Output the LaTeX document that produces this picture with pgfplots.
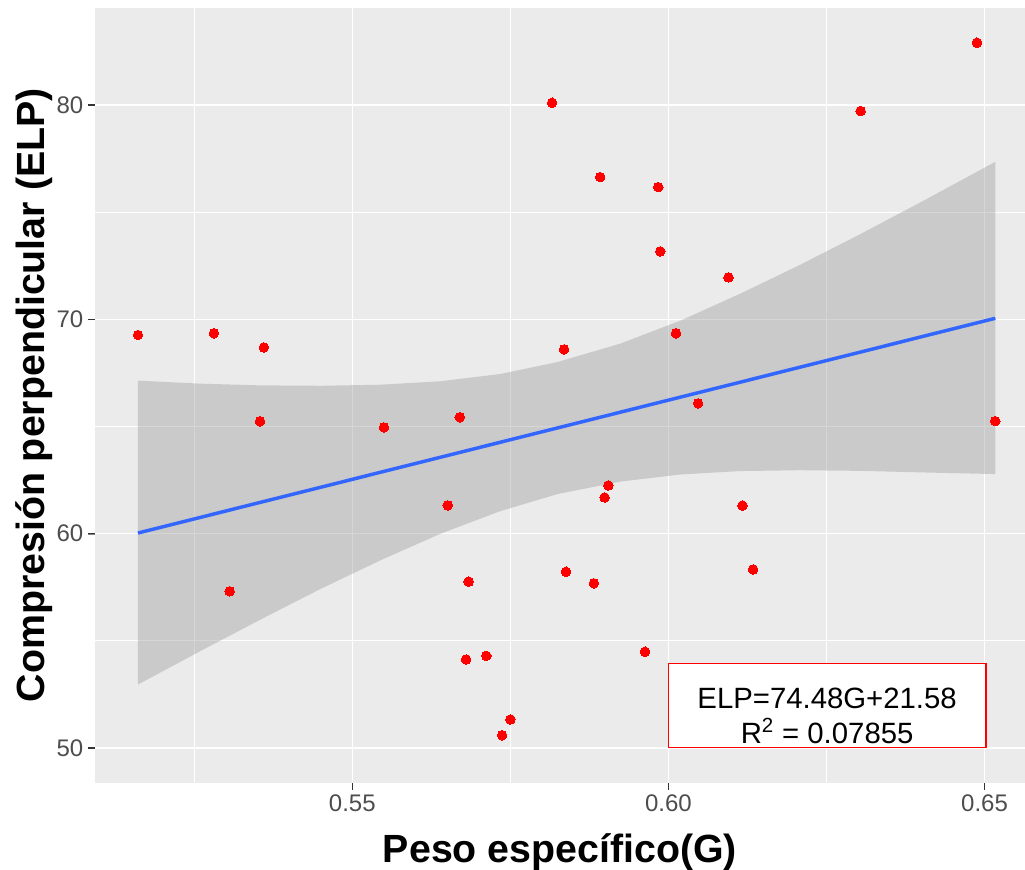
\documentclass[border=0pt]{standalone}
\usepackage{pgfplots}
\pgfplotsset{compat=1.18}
\usepackage{fontspec}
\setmainfont{Liberation Sans}
\definecolor{bg}{HTML}{EBEBEB}
\definecolor{tickc}{HTML}{333333}
\definecolor{labc}{HTML}{4D4D4D}
\definecolor{smoothc}{HTML}{3366FF}
\definecolor{bandc}{HTML}{999999}
\begin{document}
\begin{tikzpicture}[x=1pt,y=1pt]
\useasboundingbox (-71.25,-65.5) rectangle (697.5,587);
\begin{axis}[
  scale only axis, width=697.5pt, height=581pt,
  at={(0,0)}, anchor=south west,
  xmin=0.5093, xmax=0.6564, ymin=48.38, ymax=84.53,
  axis background/.style={fill=bg},
  axis lines*=left,
  axis line style={draw=none},
  xtick={0.55,0.60,0.65}, xticklabels={0.55,0.60,0.65},
  ytick={50,60,70,80}, yticklabels={50,60,70,80},
  minor xtick={0.525,0.575,0.625}, minor ytick={55,65,75},
  grid=both,
  major grid style={white, line width=1.1pt},
  minor grid style={white, line width=0.55pt},
  tick align=outside, major tick length=5.25pt, minor tick length=0pt,
  xticklabel style={font=\fontsize{18}{18}\selectfont, text=labc},
  yticklabel style={font=\fontsize{18}{18}\selectfont, text=labc},
  xlabel={Peso específico(G)},
  ylabel={Compresión perpendicular (ELP)},
  xlabel style={font=\bfseries\fontsize{29.5}{30}\selectfont, at={(axis description cs:0.5,-0.1036)}, anchor=base},
  ylabel style={font=\bfseries\fontsize{29.5}{30}\selectfont, at={(axis description cs:-0.0548,0.5)}, anchor=base},
]
% observed points
\addplot[only marks, mark=*, mark size=3.6pt, mark options={fill=red, draw=red, line width=0pt}] coordinates {
(0.5161,69.27) (0.5281,69.35) (0.5360,68.69) (0.5354,65.24) (0.5306,57.31)
(0.5550,64.96) (0.5670,65.43) (0.5651,61.32) (0.5684,57.76) (0.5680,54.13)
(0.5712,54.30) (0.5737,50.59) (0.5750,51.33) (0.5816,80.11) (0.5835,68.60)
(0.5838,58.22) (0.5882,57.68) (0.5892,76.64) (0.5899,61.69) (0.5905,62.25)
(0.5963,54.49) (0.5984,76.17) (0.5987,73.17) (0.6012,69.35) (0.6047,66.08)
(0.6095,71.96) (0.6117,61.31) (0.6134,58.33) (0.6304,79.72) (0.6488,82.91)
(0.6517,65.25)
};
% confidence band
\addplot[draw=none, fill=bandc, fill opacity=0.4] coordinates {
(0.5161,67.14) (0.5259,67.00) (0.5354,66.92) (0.5449,66.90) (0.5544,66.95)
(0.5639,67.11) (0.5734,67.45) (0.5825,68.01) (0.5924,68.87) (0.6019,69.94)
(0.6113,71.19) (0.6208,72.54) (0.6303,73.97) (0.6398,75.45) (0.6517,77.35)
(0.6517,62.78) (0.6398,62.86) (0.6303,62.93) (0.6208,62.96) (0.6113,62.92)
(0.6019,62.76) (0.5924,62.43) (0.5825,61.85) (0.5734,61.05) (0.5639,59.99)
(0.5544,58.75) (0.5449,57.41) (0.5354,55.98) (0.5259,54.51) (0.5161,52.96)
};
% fitted line
\addplot[smoothc, line width=2.6pt] coordinates {(0.5161,60.03) (0.6517,70.05)};
% annotation
\draw[red, line width=1.1pt, fill=white] (axis cs:0.6000,50.01) rectangle (axis cs:0.6502,53.95);
\node[anchor=base, font=\fontsize{22}{22}\selectfont, inner sep=0pt] at (axis cs:0.6251,51.86) {ELP=74.48G+21.58};
\node[anchor=base, font=\fontsize{22}{22}\selectfont, inner sep=0pt] at (axis cs:0.6251,50.23) {R\textsuperscript{2} = 0.07855};
\end{axis}
% tick marks (axis box: 697.5pt x 581pt at origin)
\draw[color=tickc, line width=1.2pt]
  (192.98,0) -- (192.98,-5.25)
  (430.04,0) -- (430.04,-5.25)
  (667.10,0) -- (667.10,-5.25)
  (0,26.03) -- (-5.25,26.03)
  (0,186.75) -- (-5.25,186.75)
  (0,347.46) -- (-5.25,347.46)
  (0,508.18) -- (-5.25,508.18);
\end{tikzpicture}
\end{document}
